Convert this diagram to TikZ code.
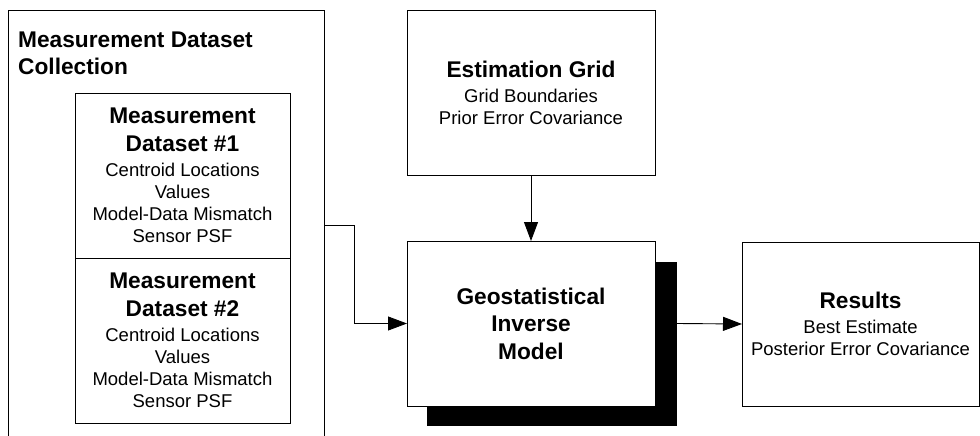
\documentclass[tikz,border=0pt]{standalone}
\usepackage{fontspec}
\setmainfont{Liberation Sans}
\usetikzlibrary{arrows.meta}
\newcommand{\hd}{\bfseries\fontsize{22.7}{27.5}\selectfont}
\tikzset{
  box/.style={draw=black, line width=0.9pt, rectangle, inner sep=0pt, outer sep=0pt, fill=white,
    align=center, font=\fontsize{18.5}{22}\selectfont},
  arr/.style={draw=black, line width=0.9pt, -{Triangle[length=19pt,width=14pt]}},
  conn/.style={draw=black, line width=0.9pt},
}
\begin{document}
\begin{tikzpicture}[x=1pt,y=-1pt]
\useasboundingbox (0,0) rectangle (980,436);
% collection
\node[box, minimum width=316pt, minimum height=450pt] (coll) at (166,235) {};
\node[anchor=west, align=left, inner sep=0pt, font=\hd] (colltitle) at (18,53.5)
  {Measurement Dataset\\Collection};
\node[box, minimum width=215pt, minimum height=165pt] (ds1) at (182.5,175.5)
  {{\hd Measurement}\\[5.5pt]{\hd Dataset \#1}\\[3pt]Centroid Locations\\Values\\Model-Data Mismatch\\Sensor PSF};
\node[box, minimum width=215pt, minimum height=165pt] (ds2) at (182.5,340.5)
  {{\hd Measurement}\\[5.5pt]{\hd Dataset \#2}\\[3pt]Centroid Locations\\Values\\Model-Data Mismatch\\Sensor PSF};
% estimation grid
\node[box, minimum width=248pt, minimum height=165pt] (grid) at (531,92.5)
  {{\hd Estimation Grid}\\[3pt]Grid Boundaries\\Prior Error Covariance};
% shadow and model
\node[fill=black, inner sep=0pt, outer sep=0pt, minimum width=250pt, minimum height=164pt] (shadow) at (552,344) {};
\node[box, minimum width=248pt, minimum height=165pt] (geo) at (531,323.5)
  {{\hd Geostatistical}\\[5.5pt]{\hd Inverse}\\[5.5pt]{\hd Model}};
% results
\node[box, minimum width=237pt, minimum height=164pt] (res) at (860.5,324)
  {{\hd Results}\\[3pt]Best Estimate\\Posterior Error Covariance};
% connectors
\coordinate (jx) at (354,225);
\draw[arr] (jx -| coll.east) -- (jx) |- (geo.west);
\draw[arr] (grid.south) -- (geo.north);
\draw[arr] (shadow.east |- geo.east) -- (res.west);
\end{tikzpicture}
\end{document}
